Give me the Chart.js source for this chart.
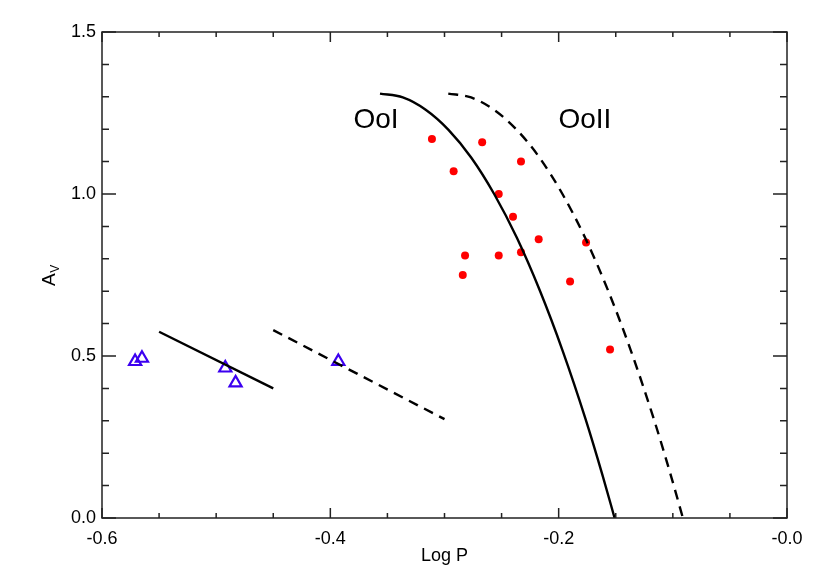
<!DOCTYPE html>
<html>
<head>
<meta charset="utf-8">
<title>Av vs Log P</title>
<script src="https://cdn.jsdelivr.net/npm/chart.js@4/dist/chart.umd.min.js"></script>
<style>
  html, body { margin: 0; padding: 0; background: #fff; }
  canvas { display: block; }
</style>
</head>
<body>
<canvas id="chart" width="817" height="584"></canvas>
<script>
// RR Lyrae style Bailey diagram: amplitude A_V vs log P

// red dots (RRab)
const redLogP = [-0.311, -0.267, -0.233, -0.292, -0.2525, -0.240, -0.2175, -0.176, -0.282, -0.2525, -0.233, -0.284, -0.190, -0.155];
const redAv   = [1.17, 1.16, 1.10, 1.07, 1.00, 0.93, 0.86, 0.85, 0.81, 0.81, 0.82, 0.75, 0.73, 0.52];

// blue open triangles (RRc)
const blueLogP = [-0.571, -0.565, -0.492, -0.483, -0.393];
const blueAv   = [0.483, 0.493, 0.463, 0.417, 0.483];

// short RRc reference lines
const rrcSolidLogP  = [-0.55, -0.45];
const rrcSolidAv    = [0.575, 0.40];
const rrcDashedLogP = [-0.45, -0.30];
const rrcDashedAv   = [0.58, 0.305];

// Oosterhoff I locus (solid curve)
const ooILogP = [-0.3565, -0.3365, -0.3165, -0.2965, -0.2765, -0.2565, -0.2365, -0.2165, -0.1965, -0.1765, -0.1615, -0.151];
const ooIAv   = [1.310, 1.298, 1.260, 1.198, 1.112, 1.000, 0.864, 0.702, 0.516, 0.306, 0.131, 0.0];

// Oosterhoff II locus (dashed curve)
const ooIILogP = [-0.2967, -0.2767, -0.2567, -0.2367, -0.2167, -0.1967, -0.1767, -0.1567, -0.1367, -0.1167, -0.1017, -0.0912];
const ooIIAv   = [1.310, 1.298, 1.260, 1.198, 1.112, 1.000, 0.864, 0.702, 0.516, 0.306, 0.131, 0.0];

// text labels
const curveNames = ["OoI", "OoII"];
const curveNameLogP = [-0.36, -0.177];
const curveNameAv = [1.226, 1.226];

const xTitle = "Log P";

const FONT = "'Liberation Sans', Arial, Helvetica, sans-serif";

function pts(xs, ys) {
  return xs.map((x, i) => ({ x: x, y: ys[i] }));
}

function lineSet(xs, ys, dashed) {
  return {
    data: pts(xs, ys),
    showLine: true,
    borderColor: "#000",
    borderWidth: 2.4,
    borderDash: dashed ? [10, 7] : [],
    pointRadius: 0,
    fill: false,
    cubicInterpolationMode: "monotone"
  };
}

// frame with inward ticks on all four sides, curve names, y title
const frameTicks = {
  id: "frameTicks",
  afterDraw(chart) {
    const ctx = chart.ctx;
    const a = chart.chartArea;
    const x = chart.scales.x;
    const y = chart.scales.y;
    ctx.save();
    ctx.strokeStyle = "#222";
    ctx.lineWidth = 1.5;
    ctx.strokeRect(a.left, a.top, a.right - a.left, a.bottom - a.top);

    ctx.beginPath();
    for (let i = 0; i <= 12; i++) {
      const px = x.getPixelForValue(-0.6 + i * 0.05);
      const len = (i % 4 === 0) ? 10 : 5;
      ctx.moveTo(px, a.bottom); ctx.lineTo(px, a.bottom - len);
      ctx.moveTo(px, a.top); ctx.lineTo(px, a.top + len);
    }
    for (let i = 0; i <= 15; i++) {
      const py = y.getPixelForValue(i * 0.1);
      const len = (i % 5 === 0) ? 14 : 7;
      ctx.moveTo(a.left, py); ctx.lineTo(a.left + len, py);
      ctx.moveTo(a.right, py); ctx.lineTo(a.right - len, py);
    }
    ctx.stroke();

    // curve names
    ctx.fillStyle = "#000";
    ctx.font = "28px " + FONT;
    ctx.textAlign = "center";
    ctx.textBaseline = "middle";
    curveNames.forEach((t, i) => {
      ctx.fillText(t, x.getPixelForValue(curveNameLogP[i]), y.getPixelForValue(curveNameAv[i]));
    });

    // y title A_V, rotated
    ctx.translate(55, 286);
    ctx.rotate(-Math.PI / 2);
    ctx.textAlign = "left";
    ctx.textBaseline = "alphabetic";
    ctx.font = "19px " + FONT;
    ctx.fillText("A", 0, 0);
    const w = ctx.measureText("A").width;
    ctx.font = "12px " + FONT;
    ctx.fillText("V", w + 0.5, 4);
    ctx.restore();
  }
};

const ctx = document.getElementById("chart").getContext("2d");

new Chart(ctx, {
  type: "scatter",
  data: {
    datasets: [
      lineSet(ooILogP, ooIAv, false),
      lineSet(ooIILogP, ooIIAv, true),
      lineSet(rrcSolidLogP, rrcSolidAv, false),
      lineSet(rrcDashedLogP, rrcDashedAv, true),
      {
        data: pts(redLogP, redAv),
        pointStyle: "circle",
        pointRadius: 4,
        backgroundColor: "#ff0000",
        borderColor: "#ff0000",
        borderWidth: 0
      },
      {
        data: pts(blueLogP, blueAv),
        pointStyle: "triangle",
        pointRadius: 7,
        backgroundColor: "rgba(0,0,0,0)",
        borderColor: "#3c00f0",
        borderWidth: 2.2
      }
    ]
  },
  options: {
    responsive: false,
    animation: false,
    layout: { padding: { top: 32, right: 30, left: 0, bottom: 0 } },
    plugins: {
      legend: { display: false },
      tooltip: { enabled: false }
    },
    scales: {
      x: {
        type: "linear",
        min: -0.6,
        max: 0.0,
        grid: { display: false, drawTicks: false },
        border: { display: false },
        ticks: {
          stepSize: 0.2,
          padding: 10,
          color: "#000",
          maxRotation: 0,
          autoSkip: false,
          font: { family: FONT, size: 18 },
          callback: v => (Math.abs(v) < 1e-9 ? "-0.0" : Number(v).toFixed(1))
        },
        title: {
          display: true,
          text: xTitle,
          color: "#000",
          font: { family: FONT, size: 18 },
          padding: { top: 4, bottom: 17 }
        },
        afterFit: s => { s.height = 66; }
      },
      y: {
        type: "linear",
        min: 0,
        max: 1.5,
        grid: { display: false, drawTicks: false },
        border: { display: false },
        ticks: {
          stepSize: 0.5,
          padding: 6,
          color: "#000",
          font: { family: FONT, size: 18 },
          callback: v => Number(v).toFixed(1)
        },
        afterFit: s => { s.width = 102; }
      }
    }
  },
  plugins: [frameTicks]
});
</script>
</body>
</html>
